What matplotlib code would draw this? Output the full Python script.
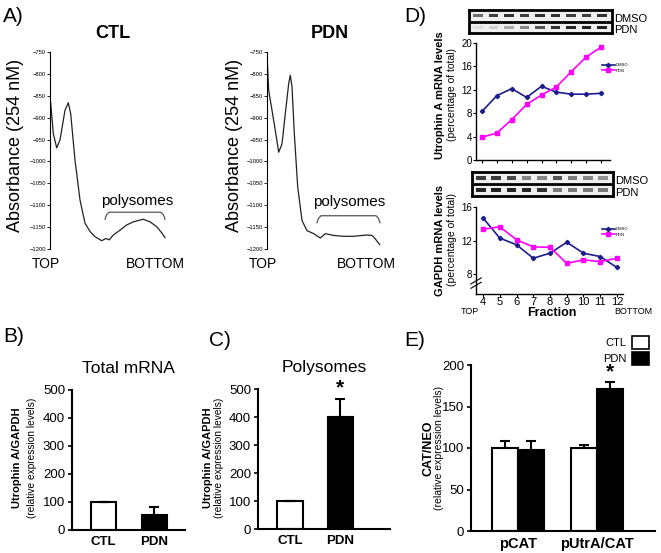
import numpy as np
import matplotlib.pyplot as plt
from matplotlib.patches import Patch

plt.rcParams['font.family'] = ['Liberation Sans', 'DejaVu Sans']

W, H = 661, 553

def box(l, t, r, b):
    # pixel box -> figure fraction
    return [l / W, 1 - b / H, (r - l) / W, (b - t) / H]

# ---- A) absorbance profiles
ctl_x = [0, 3.3, 6.7, 10, 15, 18.3, 20.7, 25, 30, 35, 40, 45, 51.7, 56, 59.3, 63.3,
         70, 76.7, 83.3, 93.3, 100, 106.7, 111.7, 115]
ctl_y = [-849, -936, -969, -951, -883, -866, -891, -997, -1088, -1141, -1160, -1172,
         -1181, -1176, -1179, -1168, -1157, -1145, -1138, -1132, -1138, -1149, -1163, -1174]
pdn_x = [0, 1.7, 5, 8.3, 11.7, 15, 18.3, 21.7, 23.3, 25, 27.3, 30.7, 35, 40, 46.7, 53.3,
         58.3, 66.7, 76.7, 86.7, 100, 105, 108.3, 112.7]
pdn_y = [-754, -838, -883, -929, -979, -960, -891, -822, -803, -829, -936, -1058, -1135,
         -1158, -1165, -1175, -1165, -1169, -1171, -1171, -1168, -1169, -1177, -1190]

# ---- D) fractions
fractions = [4, 5, 6, 7, 8, 9, 10, 11, 12]
utr_dmso = [8.3, 11.0, 12.2, 10.7, 12.6, 11.6, 11.25, 11.25, 11.4]
utr_pdn = [3.9, 4.6, 6.9, 9.5, 11.1, 12.5, 15.1, 17.6, 19.3]
gap_dmso = [14.7, 12.3, 11.5, 9.9, 10.5, 11.8, 10.5, 10.1, 8.8]
gap_pdn = [13.35, 13.65, 12.1, 11.25, 11.2, 9.3, 9.7, 9.5, 9.9]
# band intensities on the blots (0 = none, 1 = black)
blot_utr_dmso = [0.6, 0.8, 0.85, 0.8, 0.85, 0.85, 0.8, 0.8, 0.85]
blot_utr_pdn = [0.15, 0.2, 0.35, 0.5, 0.7, 0.85, 0.9, 0.92, 0.92]
blot_gap_dmso = [0.8, 0.8, 0.75, 0.5, 0.5, 0.7, 0.55, 0.5, 0.45]
blot_gap_pdn = [0.9, 0.92, 0.9, 0.9, 0.85, 0.55, 0.55, 0.55, 0.55]

# ---- B), C), E) bars
groups = ['CTL', 'PDN']
total_mean = [100, 53]
total_err = [0, 29]
poly_mean = [100, 400]
poly_err = [0, 65]
constructs = ['pCAT', 'pUtrA/CAT']
cat_ctl = [100, 100]
cat_ctl_err = [9, 4]
cat_pdn = [97, 171]
cat_pdn_err = [11, 8]

navy = '#1c1c8c'
magenta = '#ff00ff'

fig = plt.figure(figsize=(W / 100, H / 100), dpi=100)
fig.patch.set_facecolor('white')

# ================= A
def profile(ax, x, y, title, br, txt):
    ax.plot(x, y, '-', color='#222222', lw=0.9)
    ax.set_xlim(0, 125)
    ax.set_ylim(-1200, -750)
    ax.set_yticks(np.arange(-1200, -749, 50))
    ax.tick_params(axis='y', labelsize=4.2, length=2, width=0.6, pad=1)
    ax.set_xticks([])
    for s in ['top', 'right', 'bottom']:
        ax.spines[s].set_visible(False)
    ax.spines['left'].set_linewidth(0.8)
    ax.set_title(title, fontsize=13, fontweight='bold', pad=10)
    ax.plot(br[0], br[1], '-', color='#555555', lw=0.9, clip_on=False)
    ax.text(txt[0], txt[1], 'polysomes', fontsize=11, ha='center', va='center')

axA1 = fig.add_axes(box(50, 52, 175, 249))
profile(axA1, ctl_x, ctl_y, 'CTL',
        ([55, 56.5, 59, 111, 113.5, 115], [-1132, -1122, -1116, -1116, -1122, -1132]),
        (87, -1090))
axA2 = fig.add_axes(box(267, 52, 392, 249))
profile(axA2, pdn_x, pdn_y, 'PDN',
        ([50, 51.5, 54, 109, 111.5, 113], [-1140, -1130, -1124, -1124, -1130, -1140]),
        (82, -1092))

for xc, xt, xb in [(16, 46, 155), (235, 263, 366)]:
    fig.text(xc / W, 1 - 145 / H, 'Absorbance (254 nM)', rotation=90, fontsize=13,
             ha='center', va='center')
    fig.text(xt / W, 1 - 264 / H, 'TOP', fontsize=10, ha='center', va='center')
    fig.text(xb / W, 1 - 264 / H, 'BOTTOM', fontsize=10, ha='center', va='center')

# ================= D
def blot(rect, top, bot, labs_y):
    ax = fig.add_axes(box(*rect))
    ax.set_facecolor('#efefef')
    lanes = np.arange(len(top))
    for row, vals in enumerate([top, bot]):
        cols = [str(round(1 - 0.95 * v, 3)) for v in vals]
        ax.bar(lanes, [0.3] * len(vals), width=0.62, bottom=row + 0.35, color=cols)
    ax.axhline(1, color='black', lw=2)
    ax.set_xlim(-0.58, 8.65)
    ax.set_ylim(2, 0)
    ax.set_xticks([]); ax.set_yticks([])
    for s in ax.spines.values():
        s.set_linewidth(2)
    fig.text((rect[2] + 2) / W, 1 - labs_y[0] / H, 'DMSO', fontsize=8, va='center')
    fig.text((rect[2] + 2) / W, 1 - labs_y[1] / H, 'PDN', fontsize=8, va='center')

blot((469, 10, 612, 33), blot_utr_dmso, blot_utr_pdn, (19, 30))
blot((472, 172, 613, 196), blot_gap_dmso, blot_gap_pdn, (181, 193))

def lines(ax):
    for s in ['top', 'right']:
        ax.spines[s].set_visible(False)
    for s in ['left', 'bottom']:
        ax.spines[s].set_linewidth(1.0)

axD1 = fig.add_axes(box(476, 43, 610, 160))
axD1.plot(fractions, utr_dmso, '-D', color=navy, ms=2.2, lw=1.2, label='DMSO')
axD1.plot(fractions, utr_pdn, '-s', color=magenta, ms=2.6, lw=1.2, label='PDN')
axD1.set_xlim(3.6, 12.6)
axD1.set_ylim(0, 20)
axD1.set_yticks(np.arange(0, 21, 4))
axD1.set_xticks(fractions)
axD1.set_xticklabels([])
axD1.tick_params(axis='y', labelsize=7, length=2, pad=1)
axD1.tick_params(axis='x', length=2)
lines(axD1)
axD1.legend(loc='upper left', bbox_to_anchor=(600 / W, 1 - 61 / H),
            bbox_transform=fig.transFigure, fontsize=3, frameon=False,
            handlelength=3, labelspacing=0.4, handletextpad=0.3, borderpad=0)

axD2 = fig.add_axes(box(476, 207, 623, 293.5))
axD2.plot(fractions, gap_dmso, '-D', color=navy, ms=2.2, lw=1.2, label='DMSO')
axD2.plot(fractions, gap_pdn, '-s', color=magenta, ms=2.6, lw=1.2, label='PDN')
axD2.set_xlim(3.58, 12.36)
axD2.set_ylim(5.7, 16)
axD2.set_yticks([8, 12, 16])
axD2.set_xticks(fractions)
axD2.tick_params(axis='y', labelsize=7, length=2, pad=1)
axD2.tick_params(axis='x', labelsize=8, length=2, pad=0.5)
lines(axD2)
axD2.legend(loc='upper left', bbox_to_anchor=(600 / W, 1 - 225 / H),
            bbox_transform=fig.transFigure, fontsize=3, frameon=False,
            handlelength=3, labelspacing=0.4, handletextpad=0.3, borderpad=0)
# axis break marks
axD2.plot([-0.02, 0.02], [0.08, 0.11], color='white', lw=3, transform=axD2.transAxes, clip_on=False)
for dy in [0.0, 0.05]:
    axD2.plot([-0.035, 0.035], [0.06 + dy, 0.13 + dy], color='black', lw=0.8,
              transform=axD2.transAxes, clip_on=False)

fig.text(440 / W, 1 - 95 / H, 'Utrophin A mRNA levels', rotation=90, fontsize=8,
         fontweight='bold', ha='center', va='center')
fig.text(452 / W, 1 - 95 / H, '(percentage of total)', rotation=90, fontsize=7.5,
         ha='center', va='center')
fig.text(440 / W, 1 - 240 / H, 'GAPDH mRNA levels', rotation=90, fontsize=8,
         fontweight='bold', ha='center', va='center')
fig.text(452 / W, 1 - 240 / H, '(percentage of total)', rotation=90, fontsize=7.5,
         ha='center', va='center')
fig.text(470 / W, 1 - 312 / H, 'TOP', fontsize=6.5, ha='center', va='center')
fig.text(552 / W, 1 - 313 / H, 'Fraction', fontsize=9, fontweight='bold', ha='center', va='center')
fig.text(633 / W, 1 - 312 / H, 'BOTTOM', fontsize=6.5, ha='center', va='center')

# ================= B, C
def bars(ax, mean, err, xlim, width, title):
    x = np.arange(len(groups))
    ax.bar(x, mean, width=width, color=['white', 'black'], edgecolor='black', lw=1.5,
           yerr=[[0, 0], err], error_kw=dict(ecolor='black', elinewidth=1.5,
                                             capsize=3.5, capthick=1.5))
    ax.set_xlim(*xlim)
    ax.set_ylim(0, 500)
    ax.set_yticks(np.arange(0, 501, 100))
    ax.set_xticks(x)
    ax.set_xticklabels(groups, fontsize=9.5, fontweight='bold')
    ax.tick_params(axis='x', length=0, pad=4)
    ax.tick_params(axis='y', labelsize=9.5, length=3, width=1.2, pad=2)
    for s in ['top', 'right']:
        ax.spines[s].set_visible(False)
    for s in ['left', 'bottom']:
        ax.spines[s].set_linewidth(1.5)
    ax.set_title(title, fontsize=12.5, pad=12)

axB = fig.add_axes(box(72, 390, 185, 530))
bars(axB, total_mean, total_err, (-0.62, 1.6), 0.49, 'Total mRNA')
axC = fig.add_axes(box(258, 389, 390, 529))
bars(axC, poly_mean, poly_err, (-0.63, 1.98), 0.51, 'Polysomes')
axC.text(1, poly_mean[1] + poly_err[1] + 5, '*', fontsize=15, fontweight='bold',
         ha='center', va='bottom')

for xb, xn in [(17, 32), (208, 219)]:
    fig.text(xb / W, 1 - 458 / H, 'Utrophin A/GAPDH', rotation=90, fontsize=8,
             fontweight='bold', ha='center', va='center')
    fig.text(xn / W, 1 - 458 / H, '(relative expression levels)', rotation=90,
             fontsize=7.3, ha='center', va='center')

# ================= E
axE = fig.add_axes(box(471, 365, 655, 531))
xe = np.arange(len(constructs))
bw = 0.33
axE.bar(xe - bw / 2, cat_ctl, width=bw, color='white', edgecolor='black', lw=1.5,
        yerr=[[0, 0], cat_ctl_err], error_kw=dict(ecolor='black', elinewidth=1.5,
                                                  capsize=3.5, capthick=1.5))
axE.bar(xe + bw / 2, cat_pdn, width=bw, color='black', edgecolor='black', lw=1.5,
        yerr=[[0, 0], cat_pdn_err], error_kw=dict(ecolor='black', elinewidth=1.5,
                                                  capsize=3.5, capthick=1.5))
axE.text(1 + bw / 2, cat_pdn[1] + cat_pdn_err[1] + 1, '*', fontsize=15,
         fontweight='bold', ha='center', va='bottom')
axE.set_xlim(-0.595, 1.73)
axE.set_ylim(0, 200)
axE.set_yticks(np.arange(0, 201, 50))
axE.set_xticks(xe)
axE.set_xticklabels(constructs, fontsize=10.5, fontweight='bold')
axE.tick_params(axis='x', length=0, pad=4)
axE.tick_params(axis='y', labelsize=9.5, length=3, width=1.2, pad=2)
for s in ['top', 'right']:
    axE.spines[s].set_visible(False)
for s in ['left', 'bottom']:
    axE.spines[s].set_linewidth(1.5)
fig.legend([Patch(facecolor='white', edgecolor='black', lw=1.2),
            Patch(facecolor='black', edgecolor='black', lw=1.2)], groups,
           loc='upper right', bbox_to_anchor=(655 / W, 1 - 330 / H), markerfirst=False,
           frameon=False, fontsize=8, handlelength=1.6, handleheight=1.5,
           labelspacing=0.25, handletextpad=0.5, borderpad=0)
fig.text(428 / W, 1 - 448 / H, 'CAT/NEO', rotation=90, fontsize=9, fontweight='bold',
         ha='center', va='center')
fig.text(438.5 / W, 1 - 448 / H, '(relative expression levels)', rotation=90, fontsize=7.5,
         ha='center', va='center')

# panel letters
for s, x, y in [('A)', 3, 16), ('B)', 3, 336), ('C)', 209, 340), ('D)', 404, 16), ('E)', 404, 340)]:
    fig.text(x / W, 1 - y / H, s, fontsize=15, ha='left', va='center')

plt.savefig('out.png', dpi=100)
